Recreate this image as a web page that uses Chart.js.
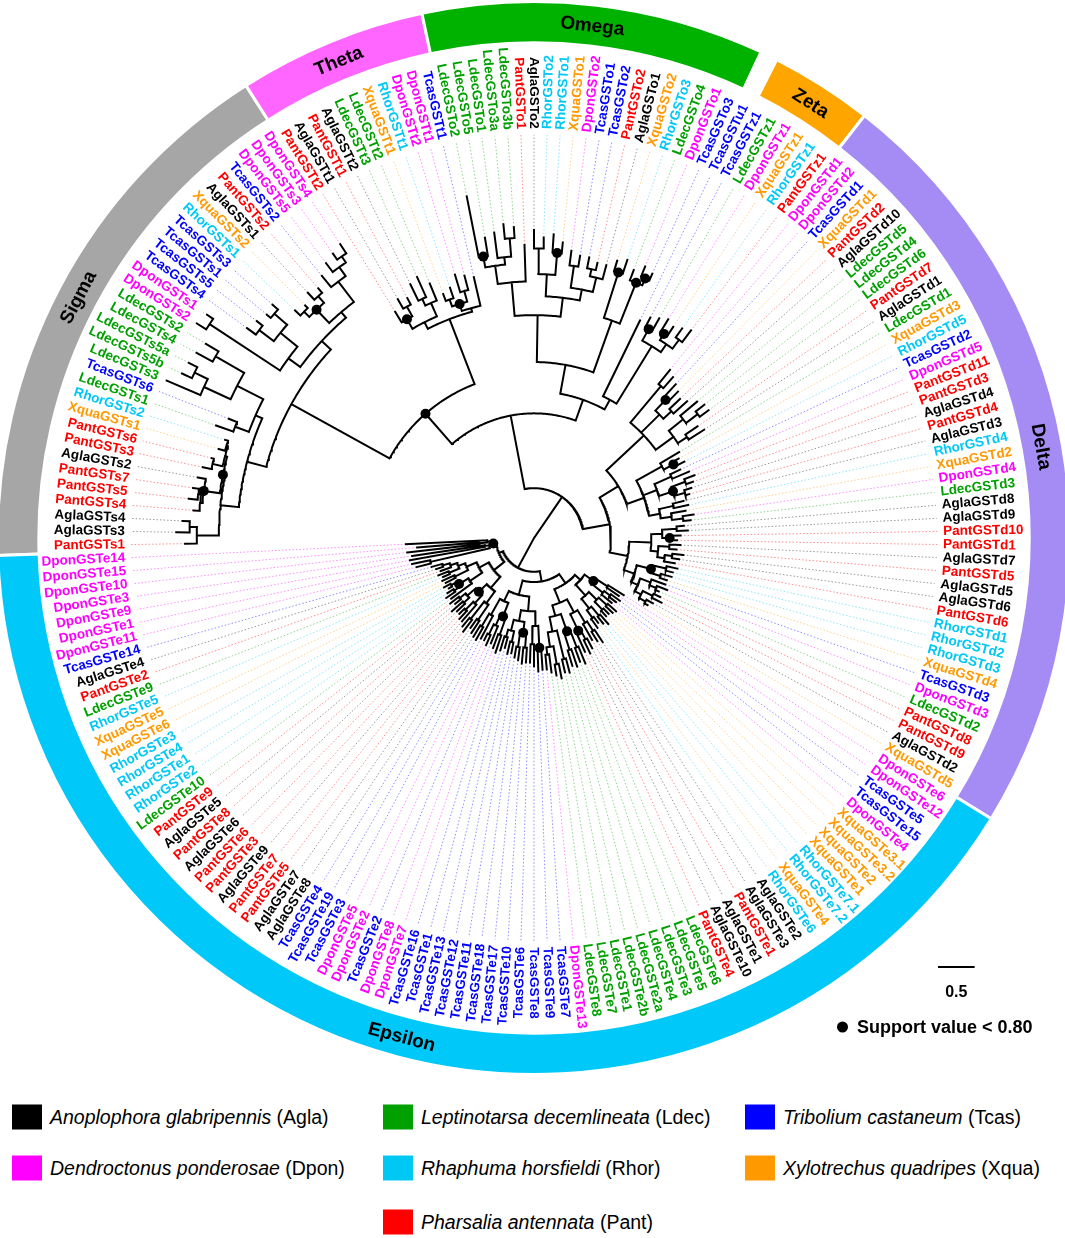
<!DOCTYPE html>
<html>
<head>
<meta charset="utf-8">
<script src="https://cdn.jsdelivr.net/npm/chart.js@4.4.1/dist/chart.umd.min.js"></script>
<style>
  html, body { margin: 0; padding: 0; background: #fff; }
  body { width: 1065px; height: 1238px; position: relative; overflow: hidden; font-family: Arial, "Liberation Sans", sans-serif; }
  #ring, #tree { position: absolute; left: -4px; top: 0; width: 1076px; height: 1076px; }
  .legend-item { position: absolute; display: flex; align-items: center; font-size: 19.5px; white-space: nowrap; transform: translateY(-50%); }
  .legend-item .box { width: 30px; height: 25px; margin-right: 8px; flex: none; }
  .support { position: absolute; left: 837px; top: 1027px; transform: translateY(-50%); font-weight: bold; font-size: 18px; display: flex; align-items: center; white-space: nowrap; }
  .support .dot { width: 11px; height: 11px; border-radius: 50%; background: #000; margin-right: 9px; }
</style>
</head>
<body>
<canvas id="ring" width="1076" height="1076"></canvas>
<canvas id="tree" width="1076" height="1076"></canvas>
<div id="legend"></div>
<div class="support"><span class="dot"></span><span id="supportText"></span></div>
<script>
// ---- species ----
const speciesCodes = ['Agla', 'Ldec', 'Tcas', 'Dpon', 'Rhor', 'Xqua', 'Pant'];
const speciesNames = ['Anoplophora glabripennis', 'Leptinotarsa decemlineata', 'Tribolium castaneum',
  'Dendroctonus ponderosae', 'Rhaphuma horsfieldi', 'Xylotrechus quadripes', 'Pharsalia antennata'];
const speciesColors = ['#000000', '#00a000', '#0000ff', '#ff00ff', '#00c8f5', '#ff9900', '#ff0000'];

// ---- leaves, clockwise from the left ----
const sigmaLeaves = ['PantGSTs1', 'AglaGSTs3', 'AglaGSTs4', 'PantGSTs4', 'PantGSTs5', 'PantGSTs7', 'AglaGSTs2', 'PantGSTs3',
  'PantGSTs6', 'XquaGSTs1', 'RhorGSTs2', 'LdecGSTs1', 'TcasGSTs6', 'LdecGSTs3', 'LdecGSTs5b', 'LdecGSTs5a', 'LdecGSTs4',
  'LdecGSTs2', 'DponGSTs2', 'DponGSTs1', 'TcasGSTs4', 'TcasGSTs5', 'TcasGSTs1', 'TcasGSTs3', 'RhorGSTs1', 'XquaGSTs2',
  'AglaGSTs1', 'PantGSTs2', 'TcasGSTs2', 'DponGSTs5', 'DponGSTs3', 'DponGSTs4'];
const thetaLeaves = ['PantGSTt2', 'AglaGSTt1', 'PantGSTt1', 'AglaGSTt2', 'LdecGSTt3', 'LdecGSTt2', 'XquaGSTt1', 'RhorGSTt1',
  'DponGSTt2', 'DponGSTt1', 'TcasGSTt1'];
const omegaLeaves = ['LdecGSTo2', 'LdecGSTo5', 'LdecGSTo1', 'LdecGSTo3a', 'LdecGSTo3b', 'PantGSTo1', 'AglaGSTo2', 'RhorGSTo2',
  'RhorGSTo1', 'XquaGSTo1', 'DponGSTo2', 'TcasGSTo1', 'TcasGSTo2', 'PantGSTo2', 'AglaGSTo1', 'XquaGSTo2', 'RhorGSTo3',
  'LdecGSTo4', 'DponGSTo1', 'TcasGSTo3'];
const unplacedLeaves = ['TcasGSTu1'];
const zetaLeaves = ['TcasGSTz1', 'LdecGSTz1', 'DponGSTz1', 'XquaGSTz1', 'RhorGSTz1', 'PantGSTz1'];
const deltaLeaves = ['DponGSTd1', 'DponGSTd2', 'TcasGSTd1', 'XquaGSTd1', 'PantGSTd2', 'AglaGSTd10', 'LdecGSTd5', 'LdecGSTd4',
  'LdecGSTd6', 'PantGSTd7', 'AglaGSTd1', 'LdecGSTd1', 'XquaGSTd3', 'RhorGSTd5', 'TcasGSTd2', 'DponGSTd5', 'PantGSTd11',
  'PantGSTd3', 'AglaGSTd4', 'PantGSTd4', 'AglaGSTd3', 'RhorGSTd4', 'XquaGSTd2', 'DponGSTd4', 'LdecGSTd3', 'AglaGSTd8',
  'AglaGSTd9', 'PantGSTd10', 'PantGSTd1', 'AglaGSTd7', 'PantGSTd5', 'AglaGSTd5', 'AglaGSTd6', 'PantGSTd6', 'RhorGSTd1',
  'RhorGSTd2', 'RhorGSTd3', 'XquaGSTd4', 'TcasGSTd3', 'DponGSTd3', 'LdecGSTd2', 'PantGSTd8', 'PantGSTd9', 'AglaGSTd2',
  'XquaGSTd5'];
const epsilonLeaves = ['DponGSTe6', 'DponGSTe12', 'TcasGSTe5', 'TcasGSTe15', 'DponGSTe4', 'XquaGSTe3.1', 'XquaGSTe3.2',
  'XquaGSTe2', 'XquaGSTe1', 'RhorGSTe7.1', 'RhorGSTe7.2', 'XquaGSTe4', 'RhorGSTe6', 'AglaGSTe2', 'AglaGSTe3', 'PantGSTe1',
  'AglaGSTe1', 'AglaGSTe10', 'PantGSTe4', 'LdecGSTe6', 'LdecGSTe5', 'LdecGSTe3', 'LdecGSTe4', 'LdecGSTe2a', 'LdecGSTe2b',
  'LdecGSTe1', 'LdecGSTe7', 'LdecGSTe8', 'DponGSTe13', 'TcasGSTe7', 'TcasGSTe9', 'TcasGSTe8', 'TcasGSTe6', 'TcasGSTe10',
  'TcasGSTe17', 'TcasGSTe18', 'TcasGSTe11', 'TcasGSTe12', 'TcasGSTe13', 'TcasGSTe1', 'TcasGSTe16', 'DponGSTe7', 'DponGSTe8',
  'TcasGSTe2', 'DponGSTe2', 'DponGSTe5', 'TcasGSTe3', 'TcasGSTe19', 'TcasGSTe4', 'AglaGSTe8', 'AglaGSTe7', 'PantGSTe5',
  'PantGSTe7', 'AglaGSTe9', 'PantGSTe3', 'PantGSTe6', 'AglaGSTe6', 'PantGSTe8', 'AglaGSTe5', 'PantGSTe9', 'LdecGSTe10',
  'RhorGSTe2', 'RhorGSTe1', 'RhorGSTe4', 'RhorGSTe3', 'XquaGSTe6', 'XquaGSTe5', 'RhorGSTe5', 'LdecGSTe9', 'PantGSTe2',
  'AglaGSTe4', 'TcasGSTe14', 'DponGSTe11', 'DponGSTe1', 'DponGSTe9', 'DponGSTe3', 'DponGSTe10', 'DponGSTe15', 'DponGSTe14'];

// ---- clades ----
const cladeNames = ['Sigma', 'Theta', 'Omega', '', 'Zeta', 'Delta', 'Epsilon'];
const cladeLeaves = [sigmaLeaves, thetaLeaves, omegaLeaves, unplacedLeaves, zetaLeaves, deltaLeaves, epsilonLeaves];
const cladeColors = ['#a6a6a6', '#ff66ff', '#00b200', 'rgba(0,0,0,0)', '#ffa500', '#a58cf5', '#00c8f8'];

const scaleBarValue = 0.5;
const supportCutoff = 0.80;

// ---- trees: number after ':' = distance from the root, '*' = support < 0.80 ----
const sigmaTree = "((((PantGSTs1:4.76,(AglaGSTs3:4.88,AglaGSTs4:4.8):4.7):4.6,(((PantGSTs4:4.66,(PantGSTs5:4.74,PantGSTs7:4.7):4.62):4.58,AglaGSTs2:4.66):4.55*,((PantGSTs3:4.62,PantGSTs6:4.53):4.5,(XquaGSTs1:4.47,RhorGSTs2:4.42):4.38):4.36):4.33*):4.3,"
  + "((LdecGSTs1:4.6,TcasGSTs6:4.47):4.35,((LdecGSTs3:5.45,(LdecGSTs5b:5.3,LdecGSTs5a:5.28):5.15):4.95,(LdecGSTs4:5.25,LdecGSTs2:5.2):5.0):4.55):4.15):4.05,"
  + "(((DponGSTs2:5.45,DponGSTs1:5.4):5.3,((TcasGSTs4:4.85,TcasGSTs5:4.8):4.7,(TcasGSTs1:4.75,TcasGSTs3:4.78):4.68):4.45):4.15,"
  + "(((RhorGSTs1:4.5,XquaGSTs2:4.45):4.4,(AglaGSTs1:4.55,PantGSTs2:4.5):4.42):4.3*,(TcasGSTs2:4.6,(DponGSTs5:4.7,(DponGSTs3:4.75,DponGSTs4:4.8):4.65):4.55):4.4):4.05):3.95):3.78";
const thetaTree = "(((PantGSTt2:3.62,(AglaGSTt1:3.75,PantGSTt1:3.7):3.6):3.45*,((AglaGSTt2:3.85,LdecGSTt3:3.9):3.6,LdecGSTt2:3.75):3.5):3.3,"
  + "(((XquaGSTt1:3.55,RhorGSTt1:3.6):3.45,(DponGSTt2:3.75,DponGSTt1:3.7):3.5):3.35*,TcasGSTt1:3.65):3.25):3.2";
const omegaTree = "(((((LdecGSTo2:4.75,LdecGSTo5:4.15):3.9*,(LdecGSTo1:4.2,(LdecGSTo3a:4.3,LdecGSTo3b:4.25):4.1):3.85):3.75,PantGSTo1:4.0):3.5,"
  + "(((AglaGSTo2:4.2,RhorGSTo2:4.1):3.95,(RhorGSTo1:4.15,XquaGSTo1:4.05):3.9*):3.6,((DponGSTo2:3.95,TcasGSTo1:3.9):3.75,((TcasGSTo2:3.9,PantGSTo2:3.85):3.75,AglaGSTo1:3.85):3.65):3.45):3.3):3.04,"
  + "((XquaGSTo2:3.95,RhorGSTo3:4.0):3.8*,(LdecGSTo4:3.9,(DponGSTo1:4.0,TcasGSTo3:3.95):3.85*):3.75*):3.15):2.4";
const zetaTree = "((TcasGSTz1:3.4,LdecGSTz1:3.45):3.25*,((DponGSTz1:3.5,XquaGSTz1:3.45):3.3*,(RhorGSTz1:3.5,PantGSTz1:3.55):3.35):3.2):3.07";
const deltaTree = "((((DponGSTd1:2.95,DponGSTd2:2.9):2.7,((TcasGSTd1:2.85,XquaGSTd1:2.8):2.6*,(PantGSTd2:2.75,AglaGSTd10:2.8):2.55):2.4,((LdecGSTd5:2.9,(LdecGSTd4:2.95,LdecGSTd6:2.95):2.8):2.6,(PantGSTd7:2.7,AglaGSTd1:2.75):2.5):2.35):2.05,"
  + "((LdecGSTd1:2.3,(XquaGSTd3:2.25,RhorGSTd5:2.3):2.15*):2.0,((TcasGSTd2:2.2,DponGSTd5:2.3):2.05,((PantGSTd11:2.35,PantGSTd3:2.3):2.2,(AglaGSTd4:2.25,PantGSTd4:2.2):2.15):2.0*):1.8,((AglaGSTd3:2.1,RhorGSTd4:2.15):1.95,(XquaGSTd2:2.1,(DponGSTd4:2.2,LdecGSTd3:2.15):2.05):1.9):1.75):1.6):1.35,"
  + "((((AglaGSTd8:2.05,AglaGSTd9:2.1):1.95,(PantGSTd10:2.0,PantGSTd1:1.95):1.85*):1.75,((AglaGSTd7:2.0,PantGSTd5:1.95):1.85,((AglaGSTd5:2.05,AglaGSTd6:2.0):1.9,PantGSTd6:1.95):1.8):1.7):1.6,"
  + "(((RhorGSTd1:2.0,RhorGSTd2:1.95):1.85,(RhorGSTd3:1.95,XquaGSTd4:1.9):1.8):1.65*,((TcasGSTd3:1.9,(DponGSTd3:1.95,LdecGSTd2:1.85):1.8):1.7,((PantGSTd8:1.9,PantGSTd9:1.95):1.8,(AglaGSTd2:1.85,XquaGSTd5:1.8):1.75):1.65):1.55):1.45):1.3):1.05";
const epsilonTree = "((((((DponGSTe6:1.45,DponGSTe12:1.4):1.2,((TcasGSTe5:1.45,TcasGSTe15:1.42):1.3,DponGSTe4:1.38):1.2):1.0*,(((XquaGSTe3.1:1.5,XquaGSTe3.2:1.48):1.35,(XquaGSTe2:1.45,XquaGSTe1:1.45):1.35):1.2,((RhorGSTe7.1:1.55,RhorGSTe7.2:1.5):1.38,(XquaGSTe4:1.45,RhorGSTe6:1.5):1.35):1.22):1.05):0.85,"
  + "((((AglaGSTe2:1.7,AglaGSTe3:1.65):1.5,PantGSTe1:1.6):1.35,((AglaGSTe1:1.7,AglaGSTe10:1.75):1.55,PantGSTe4:1.7):1.4*):1.15,(((LdecGSTe6:1.85,LdecGSTe5:1.8):1.6,(LdecGSTe3:1.85,LdecGSTe4:1.82):1.6):1.35*,((LdecGSTe2a:1.9,LdecGSTe2b:1.88):1.7,((LdecGSTe1:1.95,LdecGSTe7:1.9):1.75,(LdecGSTe8:1.85,DponGSTe13:1.8):1.6):1.5):1.3):1.1):0.95):0.75,"
  + "((((TcasGSTe7:1.8,TcasGSTe9:1.82):1.5*,(TcasGSTe8:1.75,TcasGSTe6:1.7):1.45):1.2,(((TcasGSTe10:1.7,TcasGSTe17:1.72):1.5,(TcasGSTe18:1.68,TcasGSTe11:1.65):1.5):1.3*,((TcasGSTe12:1.6,TcasGSTe13:1.62):1.45,(TcasGSTe1:1.55,TcasGSTe16:1.6):1.4):1.3):1.15):1.0,"
  + "(((DponGSTe7:1.65,DponGSTe8:1.6):1.4,(TcasGSTe2:1.55,(DponGSTe2:1.6,DponGSTe5:1.55):1.45):1.3):1.15*,(TcasGSTe3:1.55,(TcasGSTe19:1.6,TcasGSTe4:1.58):1.4):1.2):0.95):0.8):0.6,"
  + "(((((AglaGSTe8:1.55,AglaGSTe7:1.5):1.35,(PantGSTe5:1.6,PantGSTe7:1.55):1.4):1.1,((AglaGSTe9:1.5,(PantGSTe3:1.5,PantGSTe6:1.45):1.35):1.2,((AglaGSTe6:1.45,PantGSTe8:1.5):1.3,(AglaGSTe5:1.4,PantGSTe9:1.45):1.3):1.2):1.05*):0.9,"
  + "((LdecGSTe10:1.4,((RhorGSTe2:1.45,RhorGSTe1:1.4):1.3,(RhorGSTe4:1.35,RhorGSTe3:1.4):1.3):1.2*):1.05,((XquaGSTe6:1.35,XquaGSTe5:1.38):1.2,((RhorGSTe5:1.35,LdecGSTe9:1.4):1.25,(PantGSTe2:1.35,(AglaGSTe4:1.4,TcasGSTe14:1.45):1.3):1.2):1.1):1.0):0.85):0.7,"
  + "(((DponGSTe11:1.65,DponGSTe1:1.7):1.45,(DponGSTe9:1.72,DponGSTe3:1.68):0.68):0.62,((DponGSTe10:1.74,DponGSTe15:1.6):0.75,DponGSTe14:1.75):0.64):0.56*):0.52):0.46";
const backboneTree = "(((({Sigma},{Theta}):2.25*,({Omega},(TcasGSTu1:3.3,{Zeta}):2.15):2.0):1.7,{Delta}):0.68,{Epsilon}):0";

// ---- layout ----
const PX_PER_UNIT = 74;          // 0.5 on the scale bar is about 37 px
const BOX = 1076;
const half = BOX / 2 / PX_PER_UNIT;
const leafNames = cladeLeaves.flat();
const STEP = 360 / leafNames.length;
const START = 179.07;            // angle of the first leaf, degrees clockwise from the right
const labelRadius = 413 / PX_PER_UNIT;
const leaderEnd = 407 / PX_PER_UNIT;

function leafAngle(i) { return START + i * STEP; }
function polar(d, deg) {
  const a = deg * Math.PI / 180;
  return { x: d * Math.cos(a), y: -d * Math.sin(a) };
}
function speciesIndex(name) { return speciesCodes.indexOf(name.slice(0, 4)); }
function withAlpha(hex, a) {
  const n = parseInt(hex.slice(1), 16);
  return `rgba(${n >> 16},${(n >> 8) & 255},${n & 255},${a})`;
}

function parseTree(str) {
  str = str.replace(/\s+/g, '');
  let pos = 0;
  function node() {
    const n = { children: [], depth: 0, support: false, name: null };
    if (str[pos] === '(') {
      pos++;
      n.children.push(node());
      while (str[pos] === ',') { pos++; n.children.push(node()); }
      pos++;
    } else {
      const s = pos;
      while (pos < str.length && !':,()*'.includes(str[pos])) pos++;
      n.name = str.slice(s, pos);
    }
    if (str[pos] === ':') {
      pos++;
      const s = pos;
      while (pos < str.length && /[0-9.]/.test(str[pos])) pos++;
      n.depth = parseFloat(str.slice(s, pos));
    }
    if (str[pos] === '*') { n.support = true; pos++; }
    return n;
  }
  return node();
}

const cladeTrees = { Sigma: sigmaTree, Theta: thetaTree, Omega: omegaTree, Zeta: zetaTree, Delta: deltaTree, Epsilon: epsilonTree };
const root = parseTree(backboneTree.replace(/\{(\w+)\}/g, (m, k) => cladeTrees[k]));

function setAngles(n) {
  if (!n.children.length) {
    const i = leafNames.indexOf(n.name);
    if (i < 0) console.warn('missing leaf', n.name);
    n.angle = leafAngle(i);
    return;
  }
  n.children.forEach(setAngles);
  n.angle = (n.children[0].angle + n.children[n.children.length - 1].angle) / 2;
}
setAngles(root);

const GAP = { x: null, y: null };
const treeLine = [];
const dots = [];
const leaders = [];
const leaderColors = [];

function walk(n) {
  if (!n.children.length) {
    leaders.push(polar(n.depth, n.angle), polar(leaderEnd, n.angle), GAP);
    const s = speciesIndex(n.name);
    leaderColors.push(withAlpha(speciesColors[s], s === 0 ? 0.4 : 0.45));
    return;
  }
  const a0 = n.children[0].angle;
  const a1 = n.children[n.children.length - 1].angle;
  if (n.depth > 0) {
    const steps = Math.max(2, Math.ceil((a1 - a0) / 0.5));
    for (let k = 0; k <= steps; k++) treeLine.push(polar(n.depth, a0 + (a1 - a0) * k / steps));
    treeLine.push(GAP);
  }
  if (n.support) dots.push(polar(n.depth, n.angle));
  n.children.forEach(c => {
    treeLine.push(polar(n.depth, c.angle), polar(c.depth, c.angle), GAP);
    walk(c);
  });
}
walk(root);

// ---- clade ring ----
const cladeLabelPlugin = {
  id: 'cladeLabels',
  afterDatasetsDraw(chart) {
    const ctx = chart.ctx;
    const meta = chart.getDatasetMeta(0);
    ctx.save();
    ctx.font = 'bold 19px Arial';
    ctx.fillStyle = '#000';
    ctx.textAlign = 'center';
    ctx.textBaseline = 'middle';
    meta.data.forEach((arc, i) => {
      if (!cladeNames[i]) return;
      const p = arc.getProps(['startAngle', 'endAngle', 'innerRadius', 'outerRadius', 'x', 'y'], true);
      const a = (p.startAngle + p.endAngle) / 2;
      const r = (p.innerRadius + p.outerRadius) / 2;
      ctx.save();
      ctx.translate(p.x + r * Math.cos(a), p.y + r * Math.sin(a));
      ctx.rotate(Math.sin(a) < 0 ? a + Math.PI / 2 : a - Math.PI / 2);
      ctx.fillText(cladeNames[i], 0, 1);
      ctx.restore();
    });
    ctx.restore();
  }
};

new Chart(document.getElementById('ring'), {
  type: 'doughnut',
  data: {
    labels: cladeNames,
    datasets: [{
      data: cladeLeaves.map(l => l.length),
      backgroundColor: cladeColors,
      borderColor: '#ffffff',
      borderWidth: 3
    }]
  },
  options: {
    responsive: false,
    animation: false,
    events: [],
    rotation: START - STEP / 2 + 90,
    cutout: '92.3%',
    plugins: { legend: { display: false }, tooltip: { enabled: false } }
  },
  plugins: [cladeLabelPlugin]
});

// ---- tree ----
const leafLabelPlugin = {
  id: 'leafLabels',
  afterDatasetsDraw(chart) {
    const { ctx, scales: { x, y } } = chart;
    ctx.save();
    ctx.font = 'bold 13.5px Arial';
    ctx.textBaseline = 'middle';
    leafNames.forEach((name, i) => {
      const th = leafAngle(i);
      const p = polar(labelRadius, th);
      const rad = th * Math.PI / 180;
      ctx.save();
      ctx.translate(x.getPixelForValue(p.x), y.getPixelForValue(p.y));
      if (Math.cos(rad) < 0) { ctx.rotate(rad + Math.PI); ctx.textAlign = 'right'; }
      else { ctx.rotate(rad); ctx.textAlign = 'left'; }
      ctx.fillStyle = speciesColors[speciesIndex(name)];
      ctx.fillText(name, 0, 0);
      ctx.restore();
    });

    // scale bar
    const len = x.getPixelForValue(scaleBarValue) - x.getPixelForValue(0);
    const bx = 942, by = 967;
    ctx.strokeStyle = '#000';
    ctx.lineWidth = 2;
    ctx.beginPath();
    ctx.moveTo(bx, by);
    ctx.lineTo(bx + len, by);
    ctx.stroke();
    ctx.fillStyle = '#000';
    ctx.font = 'bold 16px Arial';
    ctx.textAlign = 'center';
    ctx.fillText(String(scaleBarValue), bx + len / 2, by + 26);
    ctx.restore();
  }
};

new Chart(document.getElementById('tree'), {
  type: 'scatter',
  data: {
    datasets: [
      { data: dots, showLine: false, pointRadius: 5, pointBackgroundColor: '#000', pointBorderWidth: 0, order: 0 },
      { data: treeLine, showLine: true, spanGaps: false, borderColor: '#000', borderWidth: 2,
        borderCapStyle: 'square', pointRadius: 0, order: 1 },
      { data: leaders, showLine: true, spanGaps: false, borderWidth: 1, borderDash: [1.5, 2], pointRadius: 0, order: 2,
        segment: { borderColor: c => leaderColors[Math.floor(c.p0DataIndex / 3)] } }
    ]
  },
  options: {
    responsive: false,
    animation: false,
    events: [],
    layout: { padding: 0 },
    plugins: { legend: { display: false }, tooltip: { enabled: false } },
    scales: {
      x: { type: 'linear', min: -half, max: half, display: false },
      y: { type: 'linear', min: -half, max: half, display: false }
    }
  },
  plugins: [leafLabelPlugin]
});

// ---- legend ----
const legendSlots = [[0, 0], [1, 0], [2, 0], [0, 1], [1, 1], [2, 1], [1, 2]];
const legendColX = [12, 383, 745];
const legendRowY = [1117, 1168, 1222];
const legend = document.getElementById('legend');
speciesCodes.forEach((code, i) => {
  const [c, r] = legendSlots[i];
  const item = document.createElement('div');
  item.className = 'legend-item';
  item.style.left = legendColX[c] + 'px';
  item.style.top = legendRowY[r] + 'px';
  item.innerHTML = `<span class="box" style="background:${speciesColors[i]}"></span><i>${speciesNames[i]}</i>&nbsp;(${code})`;
  legend.appendChild(item);
});
document.getElementById('supportText').textContent = `Support value < ${supportCutoff.toFixed(2)}`;
</script>
</body>
</html>
